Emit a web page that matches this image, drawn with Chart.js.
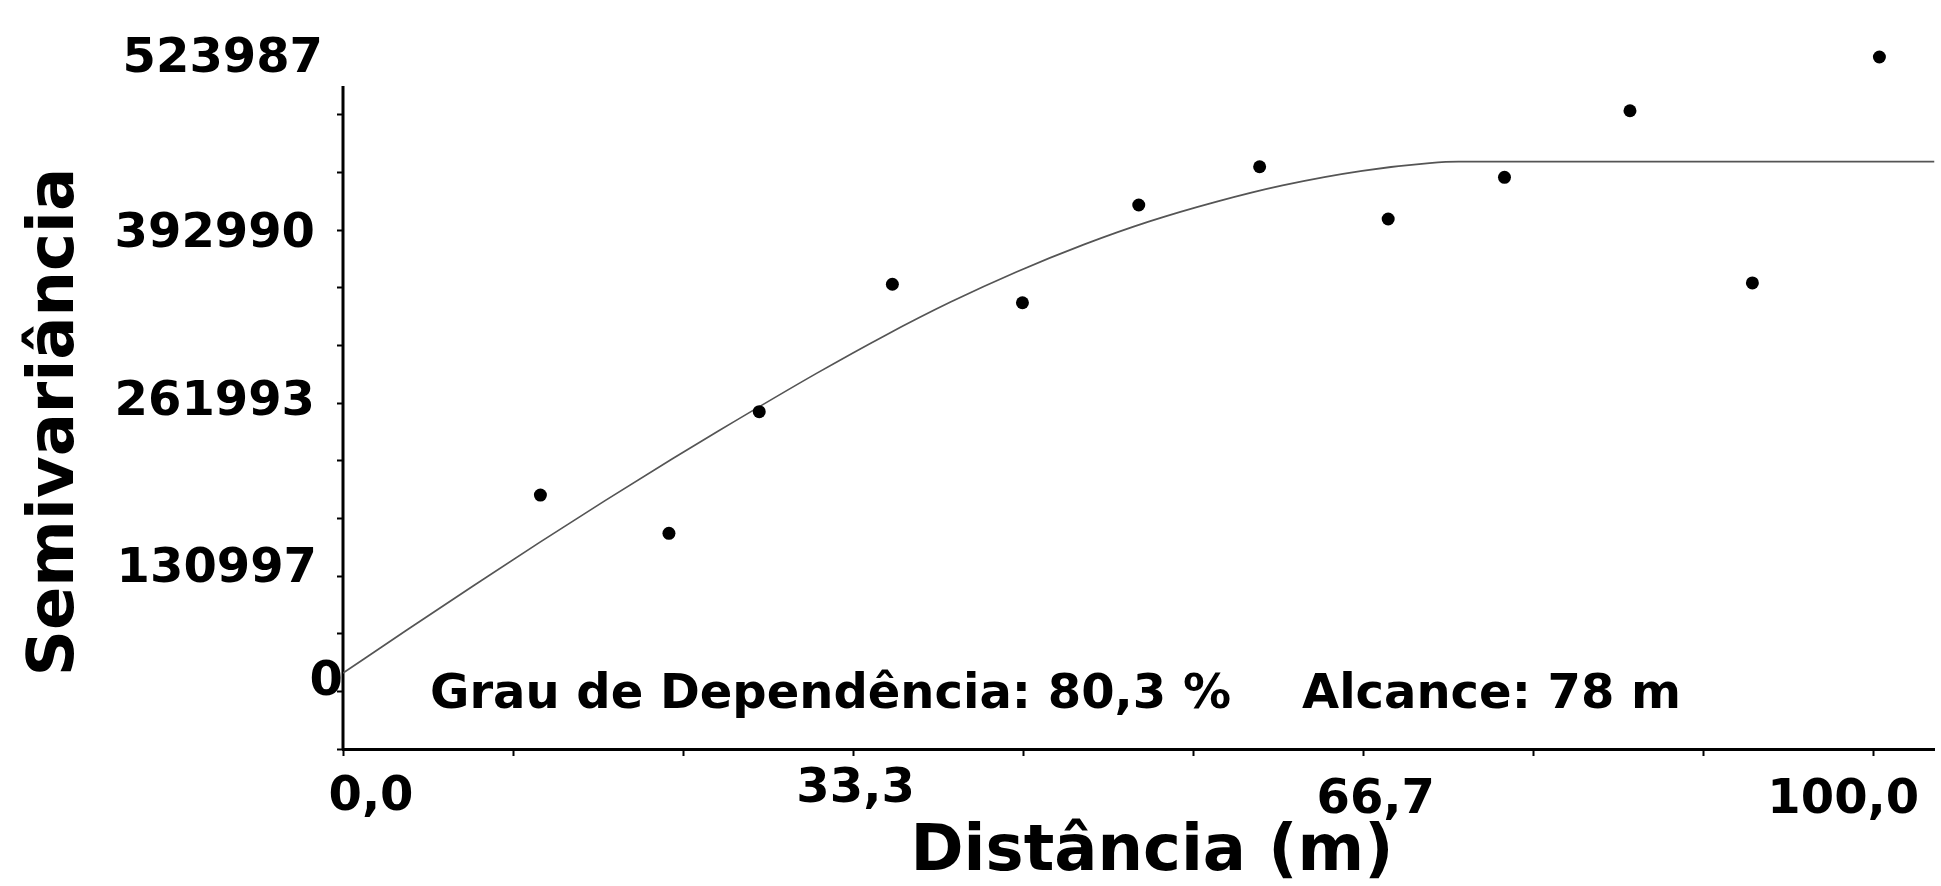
<!DOCTYPE html>
<html lang="pt">
<head>
<meta charset="utf-8">
<title>Semivariograma</title>
<script src="https://cdn.jsdelivr.net/npm/chart.js@4.4.1/dist/chart.umd.min.js"></script>
<style>
  html, body { margin: 0; padding: 0; background: #fff; }
  #wrap { width: 1941px; height: 886px; }
</style>
</head>
<body>
<div id="wrap"><canvas id="c" width="1941" height="886"></canvas></div>
<script>
// Semivariância experimental por classe de distância (m)
const lagDistance = [12.9, 21.3, 27.2, 35.9, 44.4, 52.0, 59.9, 68.3, 75.9, 84.1, 92.1, 100.4];
const semivariance = [192300, 163300, 255400, 351900, 337900, 411900, 440900, 401300, 432900, 483300, 352900, 523987];

// Modelo ajustado ao semivariograma
const modelDistance = [0, 4.1, 8.5, 12.8, 17.1, 21.5, 24.5, 31.0, 35.4, 39.7, 44.0, 48.4, 52.7, 57.1, 61.4, 66.6, 71.0, 72.9, 104];
const modelSemivariance = [57500, 89500, 123400, 156100, 187900, 219600, 240600, 284800, 313000, 338400, 361200, 381900, 399500, 414500, 426800, 437800, 443600, 444700, 444700];

// Rótulos dos eixos
const xTickValues = [0, 33.3, 66.7, 100];
const xTickLabels = ['0,0', '33,3', '66,7', '100,0'];
const yTickValues = [0, 130997, 261993, 392990, 523987];
const yTickLabels = ['0', '130997', '261993', '392990', '523987'];

const xAxisTitle = 'Distância (m)';
const yAxisTitle = 'Semivariância';
const dependenceText = 'Grau de Dependência: 80,3 %';
const rangeText = 'Alcance: 78 m';

const FONT = '"DejaVu Sans", Verdana, sans-serif';

// marcas secundárias: três divisões entre rótulos
function minorTicks(labelValues) {
  const top = labelValues[labelValues.length - 1];
  const n = (labelValues.length - 1) * 3;
  const out = [];
  for (let i = 0; i <= n; i++) out.push({ value: top * i / n });
  return out;
}

// linha vertical do eixo Y (termina abaixo do valor máximo)
const yAxisLine = {
  id: 'yAxisLine',
  beforeDatasetsDraw(chart, args, opts) {
    const { ctx, chartArea, scales: { y } } = chart;
    ctx.save();
    ctx.strokeStyle = '#000';
    ctx.lineWidth = 3;
    ctx.beginPath();
    ctx.moveTo(chartArea.left, y.getPixelForValue(opts.top));
    ctx.lineTo(chartArea.left, chartArea.bottom);
    ctx.stroke();
    ctx.restore();
  }
};

// textos dos eixos e anotação
const axisText = {
  id: 'axisText',
  afterDraw(chart, args, opts) {
    const { ctx, scales: { x, y } } = chart;
    ctx.save();
    ctx.fillStyle = '#000';
    ctx.font = 'bold 48px ' + FONT;
    ctx.textBaseline = 'alphabetic';

    ctx.textAlign = 'right';
    yTickValues.forEach((v, i) => {
      const s = opts.yShift[i];
      ctx.fillText(yTickLabels[i], opts.yLabelRight + s[0], y.getPixelForValue(v) + s[1]);
    });

    ctx.textAlign = 'center';
    xTickValues.forEach((v, i) => {
      const s = opts.xShift[i];
      ctx.fillText(xTickLabels[i], x.getPixelForValue(v) + s[0], s[1]);
    });

    ctx.textAlign = 'left';
    ctx.fillText(dependenceText, 430, 708);
    ctx.fillText(rangeText, 1302, 708);

    ctx.font = 'bold 64px ' + FONT;
    ctx.textAlign = 'center';
    ctx.fillText(xAxisTitle, 1152, 870);

    ctx.translate(73, 422);
    ctx.rotate(-Math.PI / 2);
    ctx.fillText(yAxisTitle, 0, 0);
    ctx.restore();
  }
};

const axisGrid = {
  drawOnChartArea: false,
  drawTicks: true,
  tickLength: 7,
  tickColor: '#000',
  tickWidth: 2
};

const Y_LINE_TOP = 502000;

new Chart(document.getElementById('c'), {
  type: 'scatter',
  data: {
    datasets: [
      {
        type: 'line',
        data: modelDistance.map((d, i) => ({ x: d, y: modelSemivariance[i] })),
        borderColor: '#555',
        borderWidth: 1.7,
        pointRadius: 0,
        fill: false,
        cubicInterpolationMode: 'monotone',
        order: 2
      },
      {
        type: 'scatter',
        data: lagDistance.map((d, i) => ({ x: d, y: semivariance[i] })),
        backgroundColor: '#000',
        borderColor: '#000',
        borderWidth: 0,
        pointRadius: 6.5,
        clip: false,
        order: 1
      }
    ]
  },
  options: {
    responsive: false,
    animation: false,
    devicePixelRatio: 1,
    layout: { padding: { top: 57, left: 0, right: 0, bottom: 0 } },
    plugins: {
      legend: { display: false },
      tooltip: { enabled: false },
      yAxisLine: { top: Y_LINE_TOP },
      axisText: {
        yLabelRight: 315,
        yShift: [[28, -54], [2, 6], [0, 12], [0, 17], [8, 15]],
        xShift: [[28, 810], [3, 802], [12, 813], [-30, 813]]
      }
    },
    scales: {
      x: {
        type: 'linear',
        min: 0,
        max: 104,
        afterBuildTicks(s) { s.ticks = minorTicks(xTickValues); },
        afterFit(s) { s.height = 137; },
        ticks: { display: false },
        grid: axisGrid,
        border: { display: true, color: '#000', width: 3 }
      },
      y: {
        type: 'linear',
        min: 0,
        max: 523987,
        afterBuildTicks(s) { s.ticks = minorTicks(yTickValues).filter(t => t.value <= Y_LINE_TOP); },
        afterFit(s) { s.width = 343; },
        ticks: { display: false },
        grid: Object.assign({}, axisGrid, { tickLength: 6 }),
        border: { display: false }
      }
    }
  },
  plugins: [yAxisLine, axisText]
});
</script>
</body>
</html>
